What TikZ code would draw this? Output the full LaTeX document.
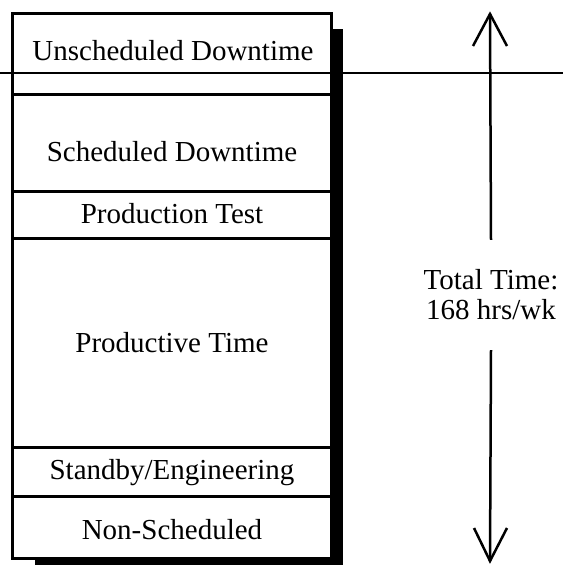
\documentclass[tikz,border=0pt]{standalone}
\usepackage{fontspec}
\setmainfont{Liberation Serif}
\begin{document}
\begin{tikzpicture}[x=1pt,y=-1pt,
  celltext/.style={anchor=base,inner sep=0pt,font=\fontsize{29}{30}\selectfont},
  divider/.style={line width=3pt},
  arrowline/.style={line width=2.5pt,line cap=butt},
  barb/.style={line width=2.5pt,line join=miter}]
\useasboundingbox (0,0) rectangle (563,565);
% shadow
\fill[black] (331,29) rectangle (343,565);
\fill[black] (35,558) rectangle (343,565);
% box
\draw[line width=3pt,fill=white] (12,13) rectangle (331,558);
\foreach \yy in {94,191,238,447,496}{\draw[divider] (12,\yy) -- (331,\yy);}
% thin horizontal line
\draw[line width=1.1pt] (0,73) -- (563,73);
% texts
\node[celltext] (u) at (173,60) {Unscheduled Downtime};
\node[celltext] (s) at (172,161) {Scheduled Downtime};
\node[celltext] (pt) at (172,223) {Production Test};
\node[celltext] (p) at (172,352) {Productive Time};
\node[celltext] (sb) at (172,479) {Standby/Engineering};
\node[celltext] (n) at (172,539) {Non-Scheduled};
% total time
\node[inner sep=0pt,minimum height=110pt,align=center,font=\fontsize{29}{30}\selectfont] (tt) at (491,295) {Total Time:\\168 hrs/wk};
\coordinate (top) at (490,14);
\coordinate (bot) at (490,561);
\draw[arrowline] (tt.north) -- (top);
\draw[arrowline] (tt.south) -- (bot);
\draw[barb] ([xshift=-17pt,yshift=-32pt]top) -- (top) -- ([xshift=17pt,yshift=-32pt]top);
\draw[barb] ([xshift=-16pt,yshift=33pt]bot) -- (bot) -- ([xshift=17pt,yshift=33pt]bot);
\end{tikzpicture}
\end{document}
